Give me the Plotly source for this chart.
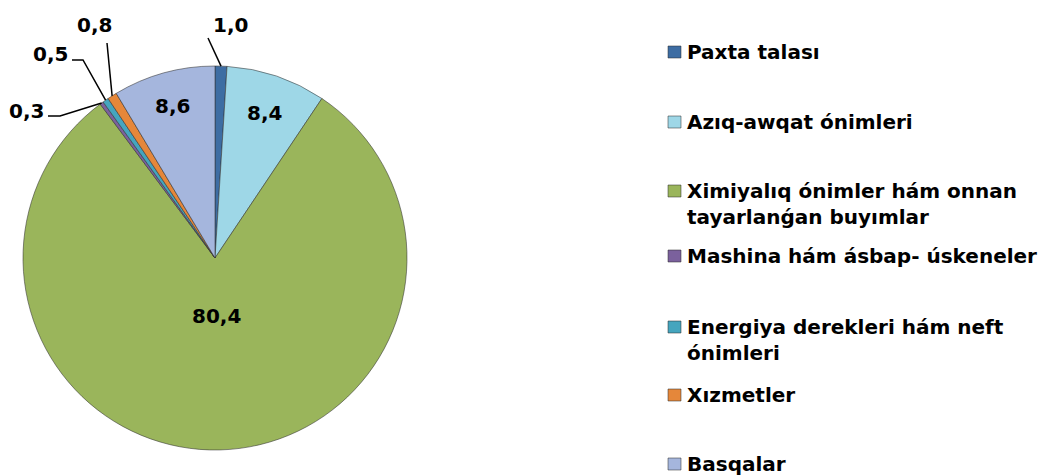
import math
import textwrap
import plotly.graph_objects as go

# ---- data ----
categories = [
    "Paxta talası",
    "Azıq-awqat ónimleri",
    "Ximiyalıq ónimler hám onnan tayarlanǵan buyımlar",
    "Mashina hám ásbap- úskeneler",
    "Energiya derekleri hám neft ónimleri",
    "Xızmetler",
    "Basqalar",
]
values = [1.0, 8.4, 80.4, 0.3, 0.5, 0.8, 8.6]
colors = ["#3D6DA3", "#9ED7E7", "#9AB55B", "#7B619D", "#45A5BE", "#E5873A", "#A5B6DD"]

# ---- layout constants (pixels) ----
W, H = 1043, 475
CX, CY, R = 215, 258, 192
FONT = dict(family="DejaVu Sans", size=20, color="#000000")

def px(x):
    return x / W

def py(y):
    return 1 - y / H

def fmt(v):
    return f"{v:.1f}".replace(".", ",")

total = sum(values)
mids = []
acc = 0.0
for v in values:
    mids.append((acc + v / 2) / total * 360.0)
    acc += v

def pie_point(theta_deg, frac):
    t = math.radians(theta_deg)
    return CX + frac * R * math.sin(t), CY - frac * R * math.cos(t)

fig = go.Figure()
fig.add_trace(go.Pie(
    values=values,
    labels=categories,
    sort=False,
    direction="clockwise",
    rotation=0,
    textinfo="none",
    showlegend=False,
    domain=dict(x=[px(CX - R), px(CX + R)], y=[py(CY + R), py(CY - R)]),
    marker=dict(colors=colors, line=dict(color="rgba(50,50,50,0.55)", width=1)),
    hovertemplate="%{label}: %{value}<extra></extra>",
))

annotations = []
shapes = []

# inside labels: placed along slice mid-angle
inside = {1: 0.80, 2: 0.30, 6: 0.82}
for i, frac in inside.items():
    x, y = pie_point(mids[i], frac)
    annotations.append(dict(x=px(x), y=py(y), xref="paper", yref="paper",
                            text=f"<b>{fmt(values[i])}</b>", showarrow=False,
                            xanchor="center", yanchor="middle", font=FONT))

# outside labels with leader lines
outside = {
    0: ((230, 24.5), [(208, 38)]),
    5: ((94, 24.5), [(107, 43)]),
    4: ((50, 53.5), [(72, 60), (83, 60)]),
    3: ((26, 110.5), [(48, 116), (60, 116)]),
}
for i, (lab, pts) in outside.items():
    annotations.append(dict(x=px(lab[0]), y=py(lab[1]), xref="paper", yref="paper",
                            text=f"<b>{fmt(values[i])}</b>", showarrow=False,
                            xanchor="center", yanchor="middle", font=FONT))
    ex, ey = pie_point(mids[i], 1.0)
    allp = pts + [(ex, ey)]
    path = "M " + " L ".join(f"{px(x):.5f},{py(y):.5f}" for x, y in allp)
    shapes.append(dict(type="path", path=path, xref="paper", yref="paper",
                       line=dict(color="#000000", width=1.5)))

# legend (right side)
legend_y = [52, 122, 191, 256, 327, 395, 464]
LINE_GAP = 26
TEXT_X = 685
for i, name in enumerate(categories):
    lines = textwrap.wrap(name, width=28, break_on_hyphens=False)
    for k, ln in enumerate(lines):
        annotations.append(dict(x=px(TEXT_X), y=py(legend_y[i] + k * LINE_GAP),
                                xref="paper", yref="paper", text=f"<b>{ln}</b>",
                                showarrow=False, xanchor="left", yanchor="middle",
                                font=FONT))
    shapes.append(dict(type="rect", xref="paper", yref="paper",
                       x0=px(668), x1=px(681), y0=py(legend_y[i] - 6), y1=py(legend_y[i] + 6),
                       fillcolor=colors[i], line=dict(color="rgba(40,40,40,0.5)", width=1)))

fig.update_layout(
    width=W, height=H,
    margin=dict(l=0, r=0, t=0, b=0),
    paper_bgcolor="white",
    plot_bgcolor="white",
    showlegend=False,
    annotations=annotations,
    shapes=shapes,
)

fig.write_html(
    "out.html",
    config={"displayModeBar": False},
    post_script="document.body.style.margin='0';document.body.style.overflow='hidden';",
)
